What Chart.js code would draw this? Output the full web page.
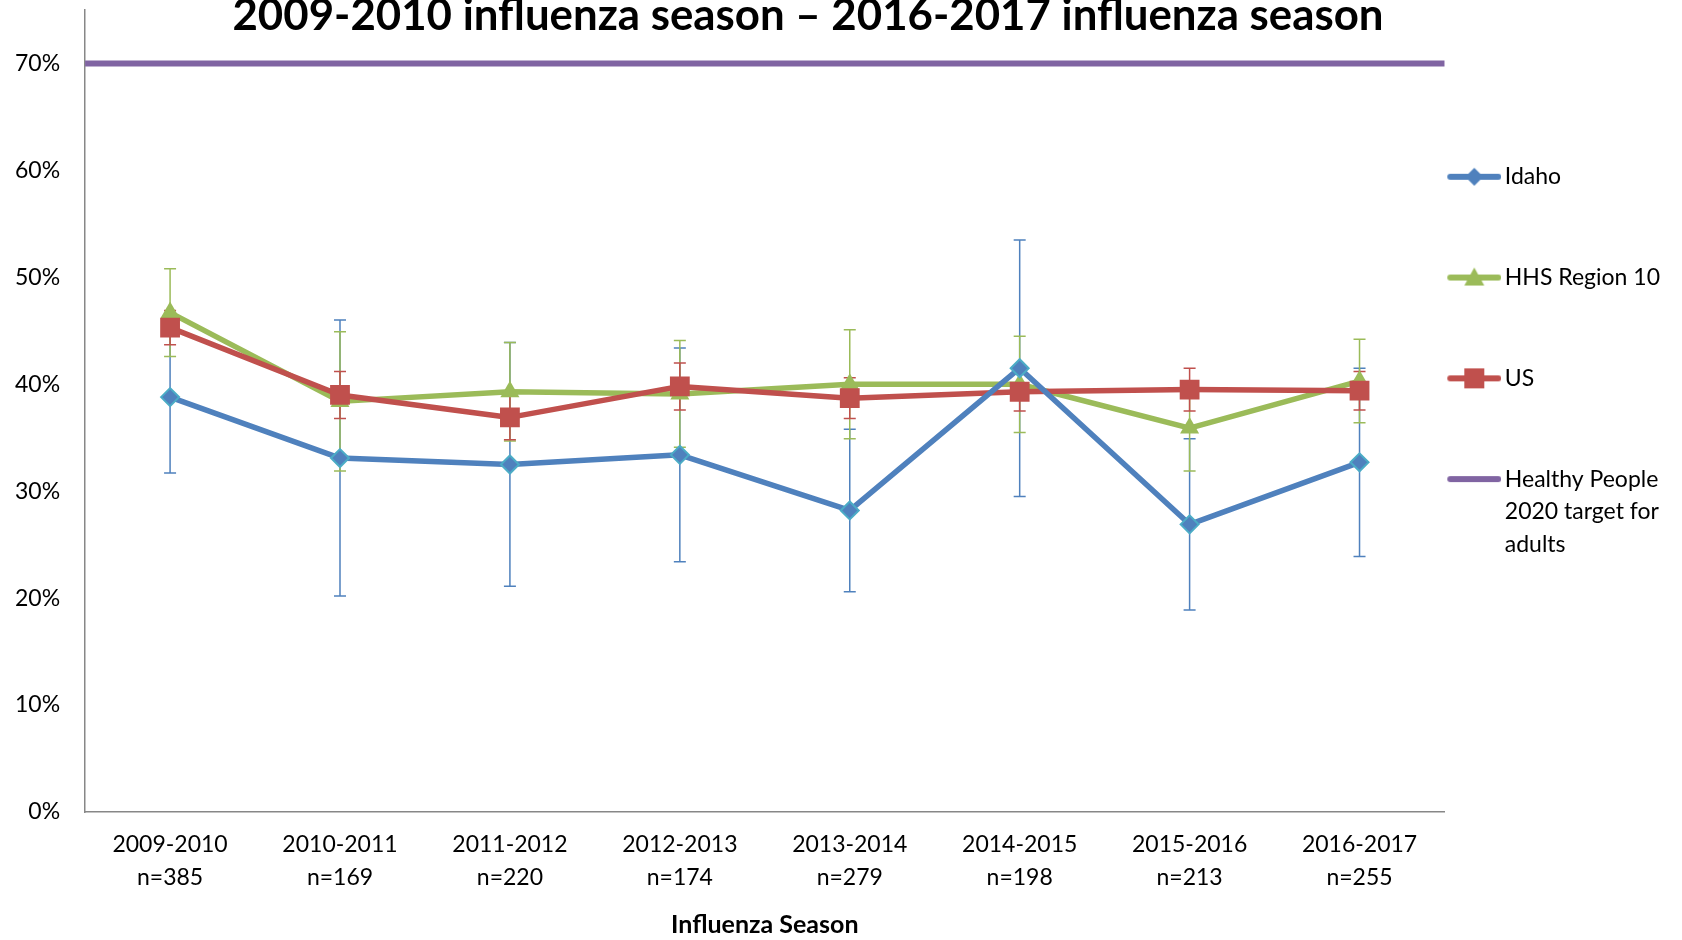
<!DOCTYPE html>
<html>
<head>
<meta charset="utf-8">
<title>Influenza vaccination coverage</title>
<script src="https://cdn.jsdelivr.net/npm/chart.js@4.4.1/dist/chart.umd.min.js"></script>
<style>
  html, body { margin: 0; padding: 0; background: #fff; }
  canvas { display: block; }
</style>
</head>
<body>
<canvas id="fluChart" width="1682" height="940"></canvas>
<script>
// values, in percent
const seasons = ['2009-2010', '2010-2011', '2011-2012', '2012-2013', '2013-2014', '2014-2015', '2015-2016', '2016-2017'];
const sampleSizes = ['n=385', 'n=169', 'n=220', 'n=174', 'n=279', 'n=198', 'n=213', 'n=255'];

const idaho = [38.8, 33.1, 32.5, 33.4, 28.2, 41.5, 26.9, 32.7];
const idahoCI = [7.1, 12.9, 11.4, 10.0, 7.6, 12.0, 8.0, 8.8];
const region10 = [46.7, 38.4, 39.3, 39.1, 40.0, 40.0, 35.9, 40.3];
const region10CI = [4.1, 6.5, 4.6, 5.0, 5.1, 4.5, 4.0, 3.9];
const us = [45.3, 39.0, 36.9, 39.8, 38.7, 39.3, 39.5, 39.4];
const usCI = [1.6, 2.2, 2.1, 2.2, 1.9, 1.8, 2.0, 1.8];
const hp2020Target = 70;

const yTicks = [0, 10, 20, 30, 40, 50, 60, 70];
const yMax = 75;

const titleText = '2009-2010 influenza season \u2013 2016-2017 influenza season';
const FONT = 'Lato, "Open Sans", sans-serif';

const BLUE = '#4f81bd';
const TEAL = '#4bacc6';
const GREEN = '#9bbb59';
const RED = '#c0504d';
const PURPLE = '#8064a2';
const AXIS = '#878787';

// little line + marker pictures for the legend
function legendSample(color, marker) {
  const c = document.createElement('canvas');
  c.width = 62;
  c.height = 28;
  const g = c.getContext('2d');
  const cy = 14, cx = 35;
  g.strokeStyle = color;
  g.lineWidth = 6;
  g.lineCap = 'round';
  g.beginPath();
  g.moveTo(11, cy);
  g.lineTo(59, cy);
  g.stroke();
  g.fillStyle = color;
  g.beginPath();
  if (marker === 'diamond') {
    g.moveTo(cx, cy - 9); g.lineTo(cx + 9, cy); g.lineTo(cx, cy + 9); g.lineTo(cx - 9, cy);
  } else if (marker === 'triangle') {
    g.moveTo(cx, cy - 10); g.lineTo(cx + 10, cy + 8); g.lineTo(cx - 10, cy + 8);
  } else if (marker === 'square') {
    g.rect(cx - 10, cy - 10, 20, 20);
  }
  g.closePath();
  if (marker) g.fill();
  return c;
}

const legendItems = [
  { text: ['Idaho', '', ''], sample: legendSample(BLUE, 'diamond') },
  { text: ['HHS Region 10', '', ''], sample: legendSample(GREEN, 'triangle') },
  { text: ['US', '', ''], sample: legendSample(RED, 'square') },
  { text: ['Healthy People', '2020 target for', 'adults'], sample: legendSample(PURPLE, null) },
];

// draws the confidence intervals under the lines
const errorBars = {
  id: 'errorBars',
  beforeDatasetsDraw(chart) {
    const ctx = chart.ctx;
    const y = chart.scales.y;
    ctx.save();
    ctx.lineWidth = 1.5;
    chart.data.datasets.forEach((ds, i) => {
      if (!ds.errorBars) return;
      const meta = chart.getDatasetMeta(i);
      ctx.strokeStyle = ds.borderColor;
      meta.data.forEach((pt, j) => {
        const top = y.getPixelForValue(ds.data[j] + ds.errorBars[j]);
        const bot = y.getPixelForValue(ds.data[j] - ds.errorBars[j]);
        ctx.beginPath();
        ctx.moveTo(pt.x, top); ctx.lineTo(pt.x, bot);
        ctx.moveTo(pt.x - 6, top); ctx.lineTo(pt.x + 6, top);
        ctx.moveTo(pt.x - 6, bot); ctx.lineTo(pt.x + 6, bot);
        ctx.stroke();
      });
    });
    ctx.restore();
  }
};

// the title in the original sits off-centre and overlaps the plot top
const chartTitle = {
  id: 'chartTitle',
  afterDraw(chart) {
    const ctx = chart.ctx;
    ctx.save();
    ctx.font = 'bold 43.8px ' + FONT;
    ctx.fillStyle = '#000';
    ctx.textAlign = 'center';
    ctx.textBaseline = 'alphabetic';
    ctx.fillText(titleText, 808, 30);
    ctx.restore();
  }
};

const ctx = document.getElementById('fluChart').getContext('2d');

new Chart(ctx, {
  type: 'line',
  data: {
    labels: seasons.map((s, i) => [s, sampleSizes[i]]),
    datasets: [
      {
        label: 'Idaho',
        data: idaho,
        errorBars: idahoCI,
        borderColor: BLUE,
        borderWidth: 5.5,
        borderJoinStyle: 'round',
        pointStyle: 'rectRot',
        pointRadius: 9,
        pointBackgroundColor: BLUE,
        pointBorderColor: TEAL,
        pointBorderWidth: 2,
        order: 0,
      },
      {
        label: 'HHS Region 10',
        data: region10,
        errorBars: region10CI,
        borderColor: GREEN,
        borderWidth: 5.5,
        borderJoinStyle: 'round',
        pointStyle: 'triangle',
        pointRadius: 11,
        pointBackgroundColor: GREEN,
        pointBorderColor: GREEN,
        pointBorderWidth: 0,
        order: 2,
      },
      {
        label: 'US',
        data: us,
        errorBars: usCI,
        borderColor: RED,
        borderWidth: 5.5,
        borderJoinStyle: 'round',
        pointStyle: 'rect',
        pointRadius: 14,
        pointBackgroundColor: RED,
        pointBorderColor: RED,
        pointBorderWidth: 0,
        order: 1,
      },
      {
        label: 'Healthy People 2020 target for adults',
        data: [{ x: -0.5, y: hp2020Target }, { x: seasons.length - 0.5, y: hp2020Target }],
        xAxisID: 'xTarget',
        borderColor: PURPLE,
        borderWidth: 6,
        borderCapStyle: 'round',
        pointRadius: 0,
        order: 3,
      },
    ],
  },
  options: {
    responsive: false,
    animation: false,
    layout: {
      autoPadding: false,
      padding: { top: 10, left: 15, right: 12, bottom: 0 },
    },
    scales: {
      x: {
        offset: true,
        // chart.js reserves the tick padding twice; keep it once
        afterFit: (scale) => {
          scale.paddingLeft = 0;
          scale.paddingRight = 0;
          scale.height -= scale.options.ticks.padding;
        },
        grid: { display: false, drawTicks: false },
        border: { display: true, color: AXIS, width: 1.5 },
        ticks: {
          color: '#000',
          padding: 16,
          autoSkip: false,
          maxRotation: 0,
          font: { family: FONT, size: 23, lineHeight: 1.45 },
        },
        title: {
          display: true,
          text: 'Influenza Season',
          color: '#000',
          padding: { top: 15.3, bottom: 0 },
          font: { family: FONT, size: 25, weight: 'bold', lineHeight: 1.2 },
        },
      },
      xTarget: {
        type: 'linear',
        display: false,
        min: -0.5,
        max: seasons.length - 0.5,
      },
      y: {
        min: 0,
        max: yMax,
        afterBuildTicks: (scale) => {
          scale.ticks = yTicks.map((v) => ({ value: v }));
        },
        afterFit: (scale) => {
          scale.paddingTop = 0;
          scale.paddingBottom = 0;
          scale.width -= scale.options.ticks.padding;
        },
        grid: { display: false, drawTicks: false },
        border: { display: true, color: AXIS, width: 1.5 },
        ticks: {
          color: '#000',
          padding: 25,
          font: { family: FONT, size: 23 },
          callback: (v) => v + '%',
        },
      },
    },
    plugins: {
      tooltip: { enabled: false },
      legend: {
        position: 'right',
        align: 'start',
        title: {
          display: true,
          text: '',
          padding: { top: 119.8, bottom: 0 },
          font: { family: FONT, size: 23, lineHeight: 1.42 },
        },
        labels: {
          usePointStyle: true,
          pointStyleWidth: 46,
          padding: 2.8,
          color: '#000',
          font: { family: FONT, size: 23, lineHeight: 1.42 },
          generateLabels: () =>
            legendItems.map((item, i) => ({
              text: item.text,
              datasetIndex: i,
              pointStyle: item.sample,
              fontColor: '#000',
              fillStyle: 'transparent',
              strokeStyle: 'transparent',
              lineWidth: 0,
              hidden: false,
            })),
        },
      },
    },
  },
  plugins: [errorBars, chartTitle],
});
</script>
</body>
</html>
